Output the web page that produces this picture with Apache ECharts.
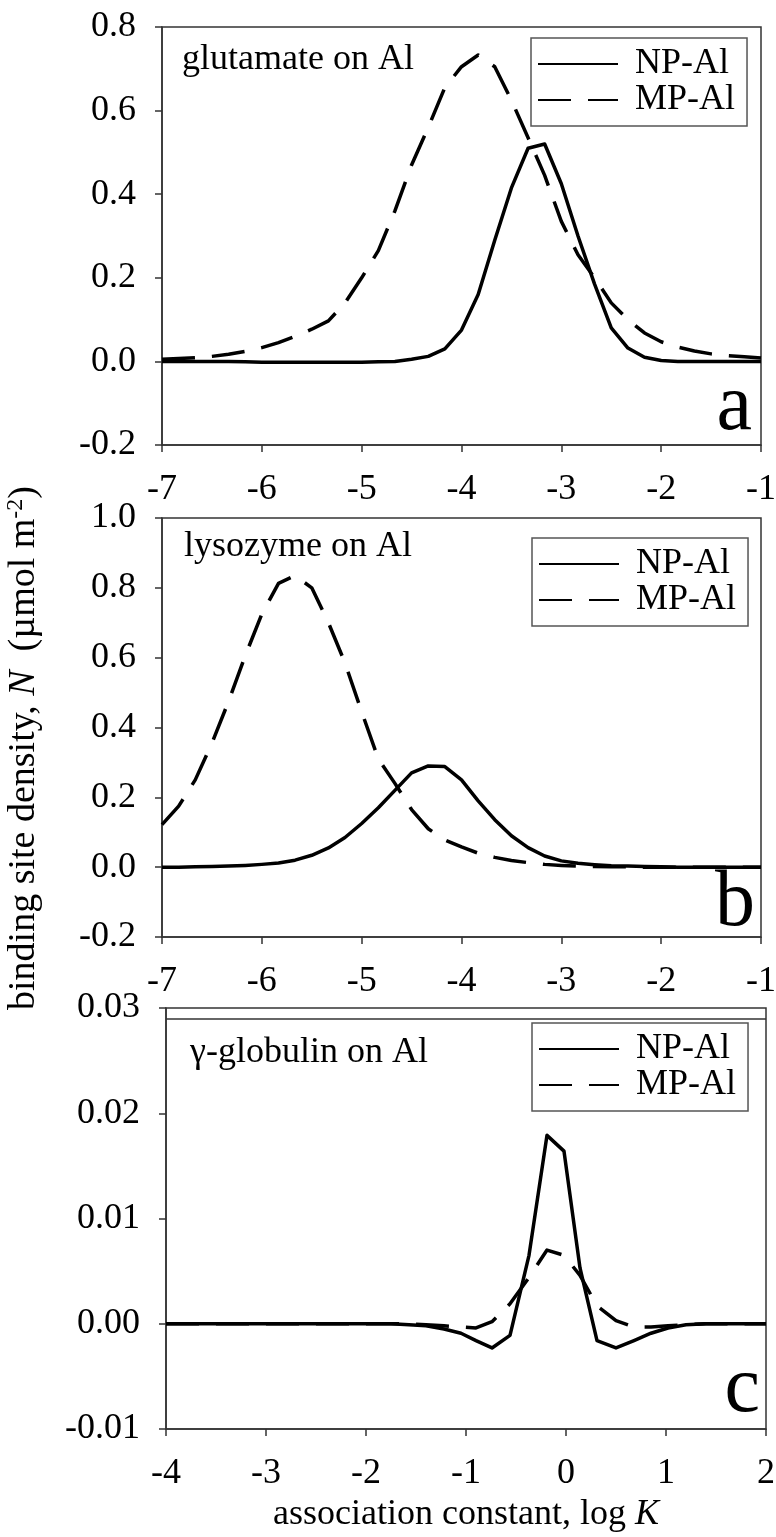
<!DOCTYPE html>
<html>
<head>
<meta charset="utf-8">
<script src="https://cdn.jsdelivr.net/npm/echarts@6/dist/echarts.min.js"></script>
<style>
html,body{margin:0;padding:0;background:#fff;}
#chart{width:776px;height:1537px;}
</style>
</head>
<body>
<div id="chart"></div>
<script>
// ---------- data ----------
const xAB = [-7,-6.833,-6.667,-6.5,-6.333,-6.167,-6,-5.833,-5.667,-5.5,-5.333,-5.167,-5,-4.833,-4.667,-4.5,-4.333,-4.167,-4,-3.833,-3.667,-3.5,-3.333,-3.167,-3,-2.833,-2.667,-2.5,-2.333,-2.167,-2,-1.833,-1.667,-1.5,-1.333,-1.167,-1];
const npA = [0,0,0,0,0,-0.001,-0.002,-0.002,-0.002,-0.002,-0.002,-0.002,-0.002,-0.001,0,0.005,0.012,0.03,0.075,0.16,0.29,0.415,0.51,0.52,0.425,0.3,0.185,0.08,0.032,0.01,0.002,0,0,0,0,0,0];
const mpA = [0.005,0.007,0.009,0.012,0.017,0.024,0.033,0.045,0.060,0.077,0.097,0.140,0.200,0.265,0.360,0.470,0.560,0.655,0.705,0.733,0.705,0.625,0.535,0.445,0.335,0.255,0.200,0.140,0.100,0.068,0.047,0.034,0.025,0.018,0.014,0.011,0.008];
const npB = [0,0,0.001,0.002,0.003,0.005,0.008,0.012,0.02,0.034,0.055,0.085,0.125,0.17,0.22,0.27,0.29,0.288,0.25,0.19,0.136,0.09,0.056,0.032,0.018,0.011,0.007,0.004,0.003,0.002,0.001,0,0,0,0,0,0];
const mpB = [0.122,0.175,0.25,0.355,0.475,0.605,0.725,0.813,0.835,0.800,0.700,0.585,0.445,0.31,0.24,0.165,0.11,0.078,0.058,0.040,0.028,0.019,0.013,0.008,0.005,0.003,0.002,0.001,0.001,0,0,0,0,0,0,0,0];
const xC = [-4,-3.5,-3,-2.5,-2,-1.75,-1.57,-1.4,-1.22,-1.05,-0.9,-0.74,-0.56,-0.37,-0.19,-0.02,0.14,0.31,0.5,0.68,0.85,1.02,1.2,1.4,1.6,2];
const npC = [0,0,0,0,0,0,-0.0001,-0.0002,-0.0005,-0.0009,-0.0016,-0.0023,-0.0011,0.0065,0.0179,0.0164,0.0053,-0.0016,-0.0023,-0.0016,-0.0009,-0.0004,-0.0001,0,0,0];
const mpC = [0,0,0,0,0,0,0,-0.0001,-0.0002,-0.0003,-0.0004,0.0002,0.0019,0.0044,0.0070,0.0065,0.0046,0.0017,0.0003,-0.0003,-0.0003,-0.0002,-0.0001,0,0,0];
const seriesNames = ['NP-Al','MP-Al'];
const panelLabels = ['glutamate on Al','lysozyme on Al','\u03b3-globulin on Al'];
const panelLetters = ['a','b','c'];
const xRanges = [[-7,-1],[-7,-1],[-4,2]];
const yRanges = [[-0.2,0.8,0.2],[-0.2,1.0,0.2],[-0.01,0.03,0.01]];
const yDecimals = [1,1,2];
const frameLineCx = [-4, 2];
const frameLineCy = [0.02896, 0.02896];

// ---------- layout ----------
const FONT = '"Liberation Serif","Times New Roman",serif';
const FS = 36;
const AX = '#333';
const grids = [
  {left:162, top:27, width:599, height:418},
  {left:162, top:518, width:599, height:419},
  {left:166, top:1008, width:600, height:421}
];
const legendPos = [{left:531, top:38},{left:532, top:538},{left:532, top:1023}];
const innerLabelPos = [[182,59.5],[184,546.5],[190,1052.5]];
const letterPos = [[752,408],[755,904],[760,1390]];

const chart = echarts.init(document.getElementById('chart'), null, {renderer:'canvas'});

function pairs(xs, ys){ return xs.map((x,i)=>[x, ys[i]]); }
const dataSets = [[npA,mpA,xAB],[npB,mpB,xAB],[npC,mpC,xC]];

const option = {
  backgroundColor:'#fff',
  animation:false,
  grid: grids.map(g => Object.assign({show:true, borderColor:AX, borderWidth:1.5, backgroundColor:'transparent', containLabel:false, outerBoundsMode:'none'}, g)),
  xAxis: xRanges.map((r,i)=>({
    type:'value', gridIndex:i, min:r[0], max:r[1], interval:1,
    axisLine:{show:true, onZero:false, lineStyle:{color:AX, width:1.5}},
    axisTick:{show:true, inside:false, length:7, lineStyle:{color:AX, width:1.5}},
    splitLine:{show:false},
    axisLabel:{show:true, margin:27, color:'#000', fontFamily:FONT, fontSize:FS, formatter:v=>String(Math.round(v)), showMinLabel:true, showMaxLabel:true},
    name: i===2 ? 'association constant, log {k|K}' : '',
    nameLocation:'middle', nameGap:68,
    nameTextStyle:{color:'#000', fontFamily:FONT, fontSize:FS, rich:{k:{fontFamily:FONT, fontSize:FS, fontStyle:'italic', color:'#000'}}}
  })),
  yAxis: yRanges.map((r,i)=>({
    type:'value', gridIndex:i, min:r[0], max:r[1], interval:r[2],
    axisLine:{show:true, onZero:false, lineStyle:{color:AX, width:1.5}},
    axisTick:{show:true, inside:false, length:7, lineStyle:{color:AX, width:1.5}},
    splitLine:{show:false},
    axisLabel:{show:true, margin:26, color:'#000', fontFamily:FONT, fontSize:FS, formatter:v=>v.toFixed(yDecimals[i]), showMinLabel:true, showMaxLabel:true}
  })),
  legend: legendPos.map(p=>({
    left:p.left, top:p.top, orient:'vertical', itemWidth:80, itemHeight:14, itemGap:0,
    padding:[8,12,8,6], borderColor:'#555', borderWidth:1.5, backgroundColor:'#fff',
    selectedMode:false,
    itemStyle:{opacity:0},
    textStyle:{color:'#000', fontFamily:FONT, fontSize:FS, lineHeight:32, padding:[0,0,0,12]},
    data: seriesNames.map(n=>({name:n, itemStyle:{opacity:0}}))
  })),
  series: [],
  graphic: []
};

dataSets.forEach((d,i)=>{
  option.series.push({
    type:'line', name:seriesNames[0], xAxisIndex:i, yAxisIndex:i,
    data:pairs(d[2], d[0]), symbol:'none', showSymbol:false, smooth:false,
    lineStyle:{color:'#000', width:3.5, type:'solid', join:'round'}, itemStyle:{color:'#000'}, z:3
  });
  option.series.push({
    type:'line', name:seriesNames[1], xAxisIndex:i, yAxisIndex:i,
    data:pairs(d[2], d[1]), symbol:'none', showSymbol:false, smooth:false,
    lineStyle:{color:'#000', width:3.5, type:[33,17], cap:'butt', join:'round'}, itemStyle:{color:'#000'}, z:3
  });
});
// inner frame line near the top of panel c
option.series.push({
  type:'line', name:'frame', xAxisIndex:2, yAxisIndex:2, silent:true,
  data:pairs(frameLineCx, frameLineCy), symbol:'none', showSymbol:false,
  lineStyle:{color:AX, width:1.5, type:'solid'}, itemStyle:{color:AX}, z:2
});

panelLabels.forEach((t,i)=>{
  option.graphic.push({type:'text', x:innerLabelPos[i][0], y:innerLabelPos[i][1],
    style:{text:t, fill:'#000', font:FS+'px '+FONT, textAlign:'left', textVerticalAlign:'middle'}, z:10});
});
panelLetters.forEach((t,i)=>{
  option.graphic.push({type:'text', x:letterPos[i][0], y:letterPos[i][1],
    style:{text:t, fill:'#000', font:'80px '+FONT, textAlign:'right', textVerticalAlign:'middle'}, z:10});
});
option.graphic.push({type:'text', x:24, y:748, rotation:Math.PI/2,
  style:{text:'binding site density, {n|N}  (\u00b5mol m{s|-2})', fill:'#000', font:'38px '+FONT,
    textAlign:'center', textVerticalAlign:'middle',
    rich:{n:{fontStyle:'italic', fontSize:38, fontFamily:FONT, lineHeight:40},
          s:{fontSize:24, fontFamily:FONT, verticalAlign:'top', lineHeight:40}}}, z:10});

chart.setOption(option);
</script>
</body>
</html>
